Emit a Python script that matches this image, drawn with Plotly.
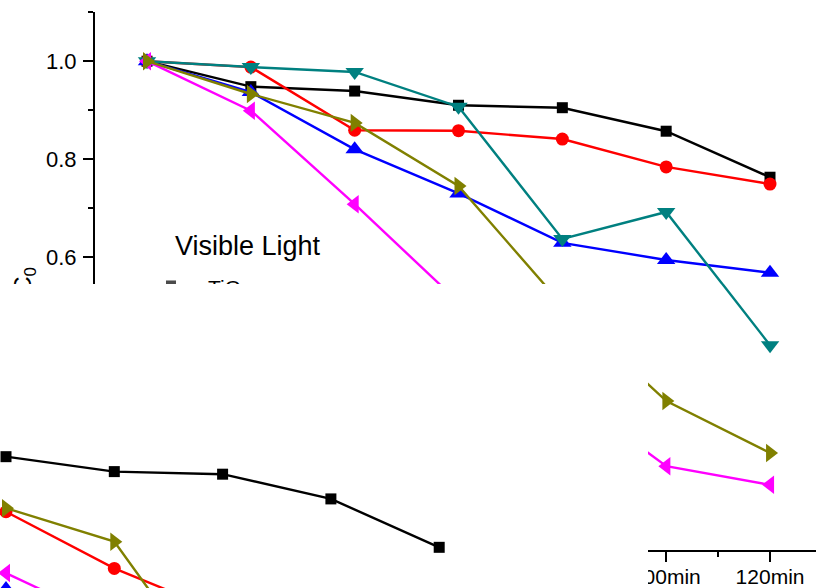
import plotly.graph_objects as go

# ---- main panel: normalised concentration vs. irradiation time ----
times = [0, 20, 40, 60, 80, 100, 120]
time_labels = ["0min", "20min", "40min", "60min", "80min", "100min", "120min"]

black_vals = [1.0, 0.948, 0.939, 0.910, 0.905, 0.857, 0.763]
red_vals = [1.0, 0.988, 0.859, 0.858, 0.841, 0.784, 0.749]
blue_vals = [1.0, 0.937, 0.820, 0.730, 0.629, 0.594, 0.568]
teal_vals = [1.0, 0.988, 0.978, 0.907, 0.637, 0.692, 0.420]
magenta_vals = [1.0, 0.899, 0.708, 0.508, 0.327, 0.173, 0.135]
olive_vals = [1.0, 0.933, 0.874, 0.745, 0.502, 0.306, 0.200]

# ---- second panel (partial) ----
b_black_t = [40, 60, 80, 100, 120]
b_black = [0.939, 0.910, 0.905, 0.857, 0.763]
b_red_t = [40, 60, 80]
b_red = [0.832, 0.722, 0.636]
b_olive_t = [40, 60, 80]
b_olive = [0.839, 0.774, 0.483]
b_magenta_t = [40, 60]
b_magenta = [0.713, 0.614]
b_blue_t = [40, 60]
b_blue = [0.682, 0.610]

legend_title = "Visible Light"
first_entry = "TiO<sub>2</sub>"
y_title = "C/C<sub>0</sub>"

FONT = "Arial, Liberation Sans, sans-serif"

# colour, marker symbol, marker size
STYLE = {
    "black": ("#000000", "square", 11),
    "red": ("#ff0000", "circle", 13),
    "blue": ("#0000ff", "triangle-up", 16),
    "teal": ("#008080", "triangle-down", 16),
    "magenta": ("#ff00ff", "triangle-left", 16),
    "olive": ("#808000", "triangle-right", 16),
}

main_series = [
    ("black", black_vals),
    ("red", red_vals),
    ("blue", blue_vals),
    ("teal", teal_vals),
    ("magenta", magenta_vals),
    ("olive", olive_vals),
]

panel_b_series = [
    ("black", b_black_t, b_black),
    ("red", b_red_t, b_red),
    ("blue", b_blue_t, b_blue),
    ("olive", b_olive_t, b_olive),
    ("magenta", b_magenta_t, b_magenta),
]


def line_trace(key, x, y, xa, ya):
    color, symbol, size = STYLE[key]
    return go.Scatter(
        x=x, y=y, xaxis=xa, yaxis=ya, mode="lines+markers",
        line=dict(color=color, width=2.4),
        marker=dict(symbol=symbol, size=size, color=color, line=dict(width=0)),
        showlegend=False, hoverinfo="skip", cliponaxis=True,
    )


fig = go.Figure()

# main panel is split in two stacked subplots sharing one scale (upper band + lower right)
for key, vals in main_series:
    fig.add_trace(line_trace(key, times, vals, "x", "y"))
for key, vals in main_series:
    fig.add_trace(line_trace(key, times, vals, "x2", "y2"))

# second panel below
for key, t, vals in panel_b_series:
    fig.add_trace(line_trace(key, t, vals, "x3", "y3"))

# legend block drawn inside the upper subplot
fig.add_trace(go.Scatter(
    x=[5.39], y=[0.6179], xaxis="x", yaxis="y", mode="text",
    text=[legend_title], textposition="middle right",
    textfont=dict(family=FONT, size=27, color="#000000"),
    showlegend=False, hoverinfo="skip", cliponaxis=True,
))
fig.add_trace(go.Scatter(
    x=[0.6, 4.62, 8.65], y=[0.5419, 0.5419, 0.5419], xaxis="x", yaxis="y",
    mode="lines+markers",
    line=dict(color="#000000", width=2.4),
    marker=dict(symbol="square", size=[0, 11, 0], color="#000000"),
    showlegend=False, hoverinfo="skip", cliponaxis=True,
))
fig.add_trace(go.Scatter(
    x=[11.74], y=[0.5332], xaxis="x", yaxis="y", mode="text",
    text=[first_entry], textposition="middle right",
    textfont=dict(family=FONT, size=21, color="#000000"),
    showlegend=False, hoverinfo="skip", cliponaxis=True,
))

# carrier for the vertical axis title
fig.add_trace(go.Scatter(x=[], y=[], xaxis="x4", yaxis="y4", showlegend=False))

tick_common = dict(
    showline=True, linewidth=2, linecolor="#000000", mirror=False,
    ticks="outside", ticklen=10, tickwidth=2, tickcolor="#000000",
    showgrid=False, zeroline=False, automargin=False,
)

fig.update_layout(
    width=816, height=588,
    margin=dict(l=0, r=0, t=0, b=0, autoexpand=False),
    paper_bgcolor="#ffffff", plot_bgcolor="rgba(0,0,0,0)",
    showlegend=False,
    font=dict(family=FONT, color="#000000"),
    xaxis=dict(domain=[0.11642, 1.0], range=[-10.02, 128.86], anchor="y",
               visible=False, automargin=False),
    yaxis=dict(
        domain=[0.51701, 0.97959], range=[0.5449, 1.1005], anchor="x",
        tickvals=[0.6, 0.8, 1.0], tickformat=".1f", ticklabelstandoff=2,
        tickfont=dict(family=FONT, size=22, color="#000000"),
        minor=dict(ticks="outside", ticklen=5, tickwidth=2, tickcolor="#000000",
                   tickvals=[0.7, 0.9, 1.1], showgrid=False),
        **tick_common,
    ),
    xaxis2=dict(
        domain=[0.79412, 1.0], range=[96.46, 128.86], anchor="y2",
        tickvals=times, ticktext=time_labels, ticklabelstandoff=-3,
        tickfont=dict(family=FONT, size=21, color="#000000"),
        minor=dict(ticks="outside", ticklen=5, tickwidth=2, tickcolor="#000000",
                   tickvals=[10, 30, 50, 70, 90, 110], showgrid=False),
        **tick_common,
    ),
    yaxis2=dict(domain=[0.06463, 0.51701], range=[0.002, 0.5449], anchor="x2",
                visible=False, automargin=False),
    xaxis3=dict(domain=[0.0, 0.79412], range=[38.892, 158.56], anchor="y3",
                visible=False, automargin=False),
    yaxis3=dict(domain=[0.0, 0.51701], range=[0.684, 1.2743], anchor="x3",
                visible=False, automargin=False),
    xaxis4=dict(domain=[0.0, 1.0], range=[0, 1], anchor="y4", visible=False,
                automargin=False),
    yaxis4=dict(
        domain=[0.0, 1.0], range=[0, 588], anchor="free", position=0.044,
        tickvals=[292], ticktext=[y_title], tickangle=-90,
        ticks="", showline=False, showgrid=False, zeroline=False, automargin=False,
        tickfont=dict(family=FONT, size=24, color="#000000"),
    ),
    shapes=[
        dict(type="rect", xref="paper", yref="paper", x0=0.70, x1=0.79412, y0=0.0, y1=0.0612,
             fillcolor="#ffffff", line=dict(width=0), layer="above"),
        dict(type="rect", xref="paper", yref="paper", x0=0.0, x1=0.0613, y0=0.2347, y1=0.51701,
             fillcolor="#ffffff", line=dict(width=0), layer="above"),
    ],
)

fig.write_html("out.html", config={"displayModeBar": False})
